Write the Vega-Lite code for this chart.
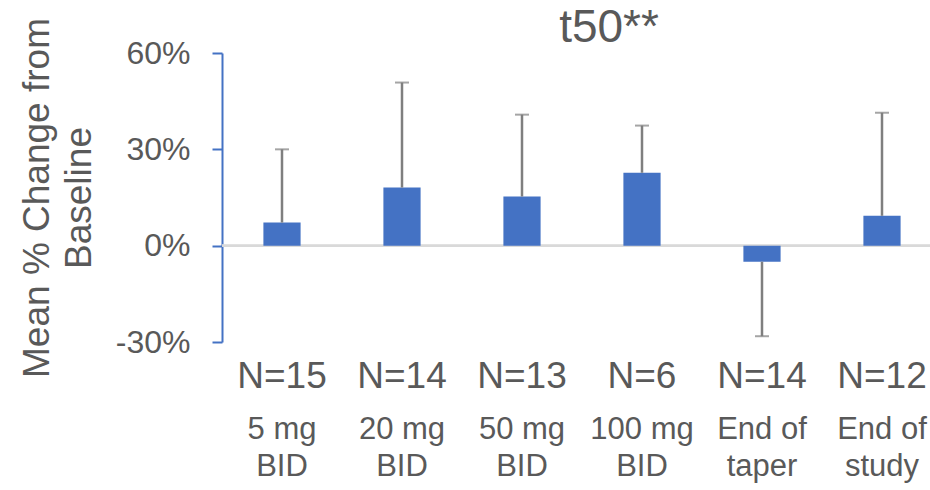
{
  "$schema": "https://vega.github.io/schema/vega-lite/v6.json",
  "width": 708,
  "height": 289,
  "autosize": {"type": "none"},
  "padding": {"left": 222, "top": 53, "right": 0, "bottom": 148},
  "title": {"text": "t50**", "fontSize": 46, "font": "Liberation Sans", "fontWeight": "normal", "color": "#595959", "anchor": "middle", "dx": 33, "baseline": "alphabetic", "offset": -70},
  "config": {"view": {"stroke": null}, "font": "Liberation Sans"},
  "data": {"values": [
    {"cat": "N=15|5 mg|BID", "v": 7.2, "e": 30.0},
    {"cat": "N=14|20 mg|BID", "v": 18.1, "e": 50.8},
    {"cat": "N=13|50 mg|BID", "v": 15.3, "e": 40.8},
    {"cat": "N=6|100 mg|BID", "v": 22.7, "e": 37.4},
    {"cat": "N=14|End of|taper", "v": -5.0, "e": -28.2},
    {"cat": "N=12|End of|study", "v": 9.3, "e": 41.4}
  ]},
  "resolve": {"axis": {"x": "independent"}},
  "layer": [
    {
      "mark": {"type": "rule", "color": "#d9d9d9", "strokeWidth": 2},
      "encoding": {"y": {"datum": 0, "type": "quantitative"}}
    },
    {
      "mark": {"type": "bar", "color": "#4472C4"},
      "encoding": {
        "x": {"field": "cat", "type": "nominal", "sort": null,
          "scale": {"range": [0, 720], "paddingInner": 0.69, "paddingOuter": 0.345},
          "axis": {"orient": "bottom", "title": null, "domain": false, "ticks": false, "tickSize": 0, "labelAngle": 0,
            "labelExpr": "split(datum.value,'|')[0]", "labelFontSize": 37, "labelColor": "#595959",
            "labelBaseline": "alphabetic", "labelPadding": 45, "labelOverlap": false}},
        "y": {"field": "v", "type": "quantitative",
          "scale": {"domain": [-30, 60], "nice": false, "zero": false},
          "axis": {"values": [-30, 0, 30, 60], "labelExpr": "datum.value + '%'", "grid": false,
            "domainColor": "#4472C4", "domainWidth": 2, "tickColor": "#4472C4", "tickWidth": 2, "tickSize": 10,
            "labelFontSize": 32, "labelColor": "#595959", "labelPadding": 22,
            "title": ["Mean % Change from", "Baseline"], "titleFontSize": 37, "titleFontWeight": "normal", "titleColor": "#595959",
            "titleAngle": -90, "titleX": -174, "titleY": 144.5, "titleAlign": "center", "titleBaseline": "alphabetic", "titleLineHeight": 42}}
      }
    },
    {
      "mark": {"type": "rule", "color": "#7f7f7f", "strokeWidth": 2.5},
      "encoding": {
        "x": {"field": "cat", "type": "nominal", "sort": null,
          "axis": {"orient": "bottom", "title": null, "domain": false, "ticks": false, "tickSize": 0, "labelAngle": 0,
            "labelExpr": "slice(split(datum.value,'|'),1)", "labelFontSize": 31, "labelColor": "#595959",
            "labelBaseline": "alphabetic", "labelPadding": 96, "labelLineHeight": 37, "labelOverlap": false}},
        "y": {"field": "v", "type": "quantitative"},
        "y2": {"field": "e"}
      }
    },
    {
      "mark": {"type": "tick", "color": "#7f7f7f", "thickness": 2, "size": 14},
      "encoding": {
        "x": {"field": "cat", "type": "nominal", "sort": null, "axis": null},
        "y": {"field": "e", "type": "quantitative"}
      }
    }
  ]
}
